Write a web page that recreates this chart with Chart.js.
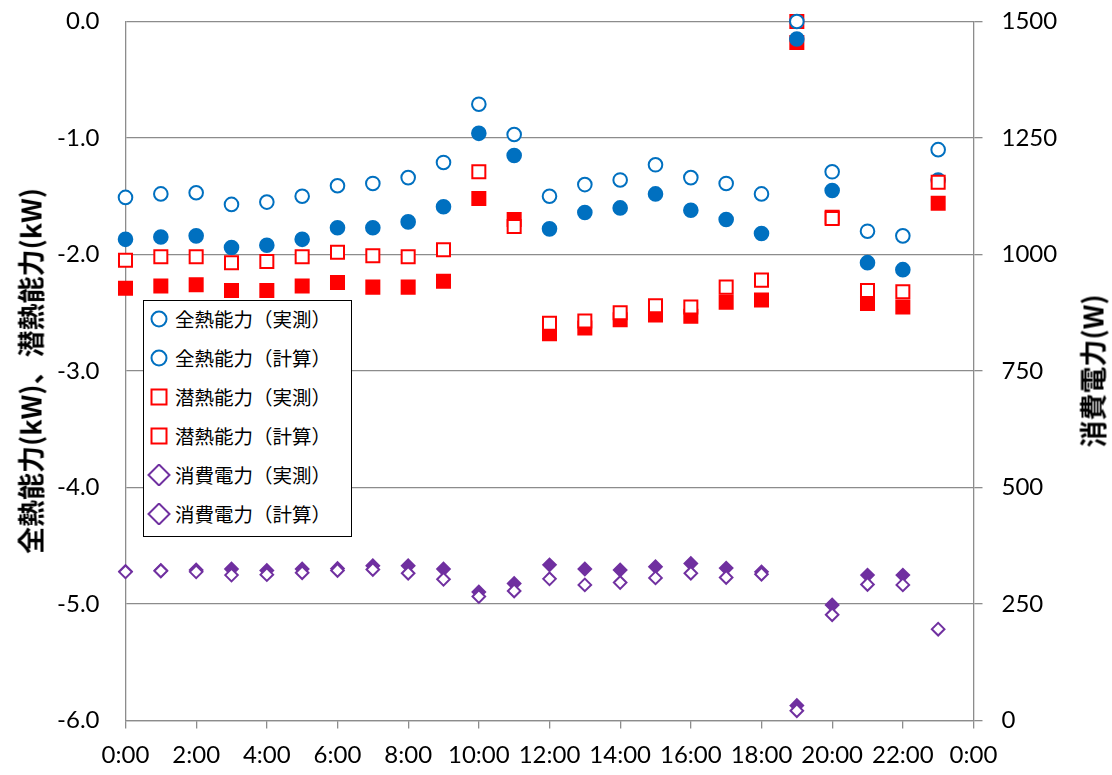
<!DOCTYPE html>
<html><head><meta charset="utf-8">
<script src="https://cdn.jsdelivr.net/npm/chart.js@4.4.1/dist/chart.umd.min.js"></script>
<style>
html,body{margin:0;padding:0;background:#fff;}
#wrap{position:relative;width:1112px;height:775px;overflow:hidden;}
#chartBox{position:absolute;left:0;top:0;width:1112px;height:775px;}
.ytitle{position:absolute;font-family:"Noto Sans CJK JP";font-weight:bold;font-size:27px;color:#000;white-space:nowrap;line-height:1;transform:translate(-50%,-50%) rotate(-90deg);}
#legend{position:absolute;left:143px;top:300px;width:209px;height:237px;border:1.5px solid #000;background:#fff;box-sizing:border-box;}
.lrow{position:absolute;left:0;width:205px;height:30px;}
.lrow svg{position:absolute;left:2px;top:4px;}
.lrow span{position:absolute;left:31px;top:0;line-height:30px;font-family:"Noto Sans CJK JP";font-size:19.5px;color:#000;white-space:nowrap;}
</style>
</head><body>
<div id="wrap">
  <div id="chartBox"><canvas id="c"></canvas></div>
  <div class="ytitle" id="tLeft" style="left:30px;top:371px;">全熱能力(kW)、潜熱能力(kW)</div>
  <div class="ytitle" id="tRight" style="left:1092px;top:371px;">消費電力(W)</div>
  <div id="legend"></div>
</div>
<script>
// ---- data ----
const hours = [0,1,2,3,4,5,6,7,8,9,10,11,12,13,14,15,16,17,18,19,20,21,22,23];
const xTickValues = [0,2,4,6,8,10,12,14,16,18,20,22,24];
const xTickLabels = ['0:00','2:00','4:00','6:00','8:00','10:00','12:00','14:00','16:00','18:00','20:00','22:00','0:00'];
const leftTickValues = [-6,-5,-4,-3,-2,-1,0];
const rightTickValues = [0,250,500,750,1000,1250,1500];

const totalMeasured  = [-1.51,-1.48,-1.47,-1.57,-1.55,-1.50,-1.41,-1.39,-1.34,-1.21,-0.71,-0.97,-1.50,-1.40,-1.36,-1.23,-1.34,-1.39,-1.48,0.00,-1.29,-1.80,-1.84,-1.10];
const totalCalc      = [-1.87,-1.85,-1.84,-1.94,-1.92,-1.87,-1.77,-1.77,-1.72,-1.59,-0.96,-1.15,-1.78,-1.64,-1.60,-1.48,-1.62,-1.70,-1.82,-0.15,-1.45,-2.07,-2.13,-1.36];
const latentMeasured = [-2.05,-2.02,-2.02,-2.07,-2.06,-2.02,-1.98,-2.01,-2.02,-1.96,-1.29,-1.76,-2.59,-2.57,-2.50,-2.44,-2.45,-2.28,-2.22,0.00,-1.69,-2.31,-2.32,-1.38];
const latentCalc     = [-2.29,-2.27,-2.26,-2.31,-2.31,-2.27,-2.24,-2.28,-2.28,-2.23,-1.52,-1.70,-2.68,-2.63,-2.56,-2.52,-2.53,-2.41,-2.39,-0.18,-1.68,-2.42,-2.45,-1.56];
const powerMeasured  = [319,321,319,312,313,317,322,324,316,303,266,278,304,291,296,306,316,307,314,21,227,292,291,196];
const powerCalc      = [320,322,323,325,322,325,326,332,332,325,276,294,334,325,323,330,337,327,319,32,248,312,312,null];

const labels = ['全熱能力（実測）','全熱能力（計算）','潜熱能力（実測）','潜熱能力（計算）','消費電力（実測）','消費電力（計算）'];

const BLUE='#0070C0', RED='#FF0000', PURPLE='#7030A0';
function pts(arr){ return hours.map((h,i)=>({x:h,y:arr[i]})); }

function ds(label, arr, axis, style, color, filled, radius, order){
  return {
    label, data: pts(arr), yAxisID: axis, order, clip:false,
    pointStyle: style, pointRadius: radius, pointHoverRadius: radius,
    pointBackgroundColor: filled ? color : '#ffffff',
    pointBorderColor: color, pointBorderWidth: 2,
    backgroundColor: filled ? color : '#ffffff', borderColor: color,
    showLine:false
  };
}

const datasets = [
  ds(labels[0], totalMeasured,  'y',  'circle',  BLUE,   false, 6.8, 0),
  ds(labels[1], totalCalc,      'y',  'circle',  BLUE,   true,  6.8, 2),
  ds(labels[2], latentMeasured, 'y',  'rect',    RED,    false, 9.2, 1),
  ds(labels[3], latentCalc,     'y',  'rect',    RED,    true,  9.2, 3),
  ds(labels[4], powerMeasured,  'y2', 'rectRot', PURPLE, false, 6.3, 4),
  ds(labels[5], powerCalc,      'y2', 'rectRot', PURPLE, true,  6.3, 5)
];

const GRID='#8c8c8c';
const tickFont = {family:'Lato', size:24};

const chart = new Chart(document.getElementById('c'), {
  type:'scatter',
  data:{datasets},
  options:{
    responsive:true, maintainAspectRatio:false, animation:false,
    events:[],
    layout:{padding:{top:21.5,left:0,right:0,bottom:0}},
    plugins:{legend:{display:false}, tooltip:{enabled:false}},
    scales:{
      x:{type:'linear', min:0, max:24,
        afterBuildTicks: s => { s.ticks = xTickValues.map(v=>({value:v})); },
        afterFit: s => { s.height = 54.5; s.paddingLeft = 0; s.paddingRight = 0; },
        ticks:{font:tickFont, color:'#000', padding:12, maxRotation:0, autoSkip:false,
          callback:(v,i)=> xTickLabels[i]},
        grid:{drawOnChartArea:false, drawTicks:true, tickLength:8, color:GRID, lineWidth:1.3},
        border:{display:true, color:GRID, width:1.3}
      },
      y:{type:'linear', position:'left', min:-6, max:0,
        afterBuildTicks: s => { s.ticks = leftTickValues.map(v=>({value:v})); },
        afterFit: s => { s.width = 125.5; s.paddingTop = 0; s.paddingBottom = 0; },
        ticks:{font:tickFont, color:'#000', padding:26, callback:v=> Number(v).toFixed(1)},
        grid:{color:GRID, lineWidth:1.3, drawTicks:false},
        border:{display:true, color:GRID, width:1.3}
      },
      y2:{type:'linear', position:'right', min:0, max:1500,
        afterBuildTicks: s => { s.ticks = rightTickValues.map(v=>({value:v})); },
        afterFit: s => { s.width = 138.5; s.paddingTop = 0; s.paddingBottom = 0; },
        ticks:{font:tickFont, color:'#000', padding:19, callback:v=> String(v)},
        grid:{drawOnChartArea:false, drawTicks:true, tickLength:9, color:GRID, lineWidth:1.3},
        border:{display:true, color:GRID, width:1.3}
      }
    }
  }
});

// ---- HTML legend built from the datasets ----
function markerSVG(style, color){
  let shape='';
  if(style==='circle') shape=`<circle cx="13" cy="11" r="7.5" fill="#fff" stroke="${color}" stroke-width="2"/>`;
  else if(style==='rect') shape=`<rect x="5.5" y="3.5" width="15" height="15" fill="#fff" stroke="${color}" stroke-width="2"/>`;
  else shape=`<polygon points="2.5,11 13,0.5 23.5,11 13,21.5" fill="#fff" stroke="${color}" stroke-width="2"/>`;
  return `<svg width="26" height="22" viewBox="0 0 26 22">${shape}</svg>`;
}
const leg = document.getElementById('legend');
chart.data.datasets.forEach((d,i)=>{
  const row = document.createElement('div');
  row.className='lrow';
  row.style.top = (3 + i*39) + 'px';
  row.innerHTML = markerSVG(d.pointStyle, d.pointBorderColor) + `<span>${d.label}</span>`;
  leg.appendChild(row);
});
</script>
</body></html>
